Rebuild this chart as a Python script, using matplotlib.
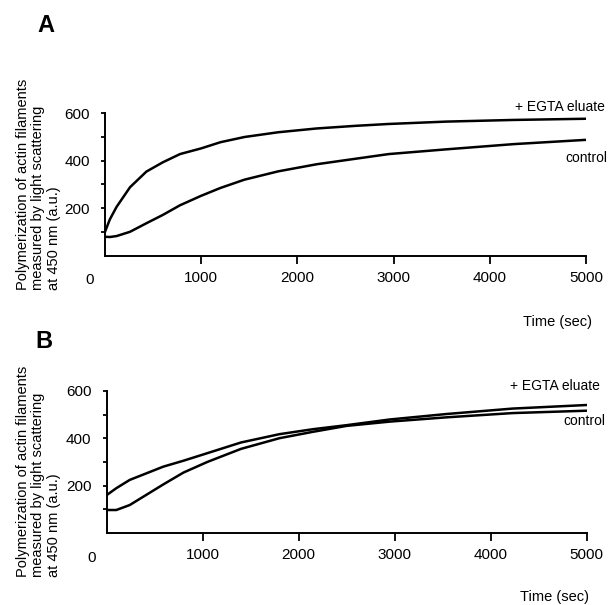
import matplotlib
matplotlib.use("Agg")
import matplotlib.pyplot as plt

# panel A: time (sec) and light scattering (a.u.)
time_a = [0, 50, 120, 260, 430, 600, 780, 1000, 1200, 1450, 1800, 2200, 2600, 2950, 3550, 4250, 5000]
egta_a = [100, 152, 205, 288, 354, 393, 428, 452, 478, 500, 520, 536, 547, 555, 565, 572, 577]
control_a = [79, 78, 82, 100, 136, 171, 212, 252, 285, 320, 355, 385, 408, 428, 448, 470, 488]

# panel B
time_b = [0, 100, 240, 590, 800, 1050, 1400, 1800, 2150, 2500, 2950, 3540, 4230, 5000]
egta_b = [160, 189, 224, 280, 305, 337, 382, 417, 438, 455, 479, 502, 525, 540]
control_b = [97, 97, 118, 205, 255, 300, 355, 400, 427, 452, 470, 488, 506, 516]

x_ticks = [1000, 2000, 3000, 4000, 5000]
y_ticks = [100, 200, 300, 400, 500, 600]
y_tick_labels = ['', '200', '', '400', '', '600']
y_label = "Polymerization of actin filaments\nmeasured by light scattering\nat 450 nm (a.u.)"

plt.rcParams['font.family'] = ['Liberation Sans', 'DejaVu Sans']

W, H = 613, 605
fig = plt.figure(figsize=(W / 100, H / 100), dpi=100)


def px(x, y):
    """pixel position (from top left) to figure fraction"""
    return x / W, 1 - y / H


def make_axes(left, right, bottom, top):
    l, b = px(left, bottom)
    r, t = px(right, top)
    ax = fig.add_axes([l, b, r - l, t - b])
    ax.set_xlim(0, 5000)
    ax.set_ylim(0, 600)
    ax.spines['top'].set_visible(False)
    ax.spines['right'].set_visible(False)
    ax.spines['left'].set_linewidth(1.4)
    ax.spines['bottom'].set_linewidth(1.4)
    ax.set_xticks(x_ticks)
    ax.set_yticks(y_ticks)
    ax.set_yticklabels(y_tick_labels)
    ax.tick_params(axis='x', direction='out', length=6, width=1.3, pad=5, labelsize=11)
    ax.tick_params(axis='y', direction='out', length=3, width=1.3, pad=8, labelsize=11)
    ax.text(-160, -0.175, '0', transform=ax.get_xaxis_transform(),
            ha='center', va='center', fontsize=11)
    return ax


def annotate(ax, letter, letter_pos, label_bottom, egta_pos, control_pos, time_pos):
    fig.text(*px(*letter_pos), letter, fontsize=17, fontweight='bold', ha='center', va='center')
    fig.text(*px(38.5, label_bottom), y_label, rotation=90, ha='center', va='bottom',
             multialignment='left', fontsize=10.5, linespacing=1.1)
    fig.text(*px(*egta_pos), '+ EGTA eluate', fontsize=10, ha='left', va='center')
    fig.text(*px(*control_pos), 'control', fontsize=10, ha='left', va='center')
    fig.text(*px(*time_pos), 'Time (sec)', fontsize=10.5, ha='left', va='center')


# Panel A
ax_a = make_axes(105, 586, 255.5, 113.3)
ax_a.plot(time_a, egta_a, color='black', lw=1.8)
ax_a.plot(time_a, control_a, color='black', lw=1.8)
annotate(ax_a, 'A', (46, 25), 290, (515, 107), (565, 158), (523, 322))

# Panel B
ax_b = make_axes(106.7, 586.5, 533, 390.8)
ax_b.plot(time_b, egta_b, color='black', lw=1.8)
ax_b.plot(time_b, control_b, color='black', lw=1.8)
annotate(ax_b, 'B', (44, 342), 577, (510, 386), (563, 421), (520, 597))

fig.savefig('out.png', dpi=100)
